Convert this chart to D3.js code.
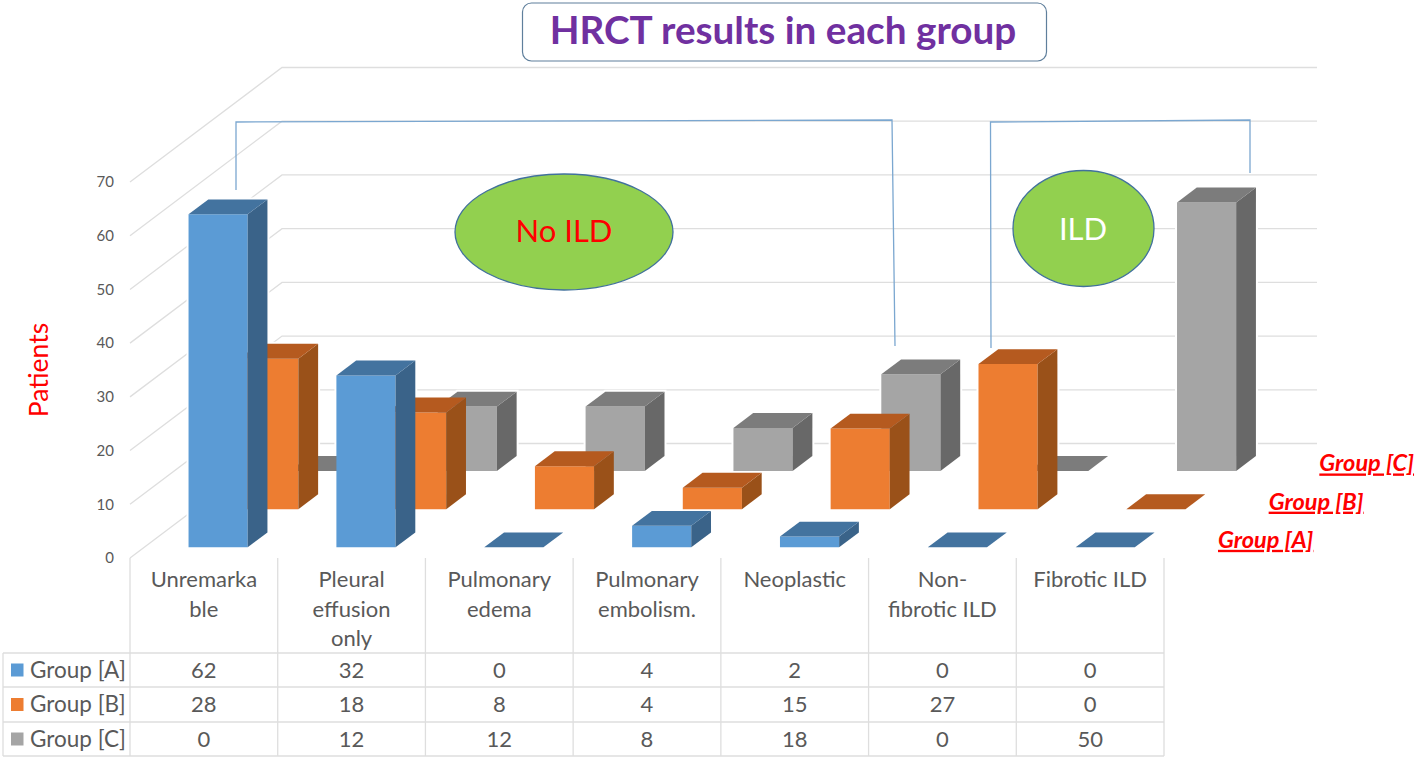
<!DOCTYPE html>
<html><head><meta charset="utf-8">
<script src="https://cdnjs.cloudflare.com/ajax/libs/d3/7.8.5/d3.min.js"></script>
<style>html,body{margin:0;padding:0;background:#fff;overflow:hidden}text{font-family:Lato,"Open Sans",sans-serif}</style>
</head><body><svg id="c" width="1418" height="760"></svg>
<script>
const categories = ["Unremarkable","Pleural effusion only","Pulmonary edema","Pulmonary embolism.","Neoplastic","Non-fibrotic ILD","Fibrotic ILD"];
const categoryLines = [["Unremarka","ble"],["Pleural","effusion","only"],["Pulmonary","edema"],["Pulmonary","embolism."],["Neoplastic"],["Non-","fibrotic ILD"],["Fibrotic ILD"]];
const seriesNames = ["Group [A]","Group [B]","Group [C]"];
const groupA = [62,32,0,4,2,0,0];
const groupB = [28,18,8,4,15,27,0];
const groupC = [0,12,12,8,18,0,50];
const seriesValues = [groupA,groupB,groupC];
const frontColors = ["#5b9bd5","#ed7d31","#a5a5a5"];
const topColors = ["#43739f","#b55a1f","#7c7c7c"];
const sideColors = ["#3a6389","#9a5119","#686868"];
const yTicks = [0,10,20,30,40,50,60,70];

const svg = d3.select("#c");
const gridC="#dedede", txt="#595959";
const y = d3.scaleLinear().domain([0,70]).range([558,182]);
const x = d3.scaleBand().domain(categories).range([130,1165]).paddingInner(0.6).paddingOuter(0.3);
const cols = d3.scaleBand().domain(categories).range([130,1164]);
const dX = d3.scaleLinear().domain([0,3]).range([0,152]);
const dY = d3.scaleLinear().domain([0,3]).range([0,-114.5]);
const barStart=0.28, barDepth=0.39;

const grid = svg.append("g").attr("fill","none").attr("stroke",gridC).attr("stroke-width",1.3);
yTicks.forEach(t=>{
  const p=d3.path();
  p.moveTo(x.range()[0],y(t));
  p.lineTo(x.range()[0]+dX(3),y(t)+dY(3));
  p.lineTo(1317,y(t)+dY(3));
  grid.append("path").attr("d",p.toString());
});

const ax = svg.append("g").attr("transform","translate(114,0)")
  .call(d3.axisLeft(y).tickValues(yTicks).tickSize(0).tickPadding(0));
ax.select(".domain").remove();
ax.selectAll("text").attr("fill",txt).style("font-size","15px").style("font-family","Lato");

const halo = svg.append("g");
const bars = svg.append("g");
[2,1,0].forEach(s=>{
  const dx0=dX(s+barStart), dy0=dY(s+barStart);
  const ddx=dX(barDepth), ddy=dY(barDepth);
  const w=x.bandwidth();
  const row = categories.map((c,i)=>({c,v:seriesValues[s][i]}));
  const poly = pts=>pts.map(p=>p.join(",")).join(" ");
  halo.append("g").selectAll("polygon").data(row).join("polygon").attr("fill","#fff").attr("stroke","#fff").attr("stroke-width",4)
    .attr("points",d=>{const l=x(d.c)+dx0,r=l+w,b=y(0)+dy0,t=y(d.v)+dy0;
      return poly([[l,b],[l,t],[l+ddx,t+ddy],[r+ddx,t+ddy],[r+ddx,b+ddy],[r,b]]);});
  const bar = bars.append("g").selectAll("g").data(row).join("g");
  bar.append("polygon").attr("fill",frontColors[s])
    .attr("points",d=>{const l=x(d.c)+dx0,r=l+w,b=y(0)+dy0,t=y(d.v)+dy0;
      return poly([[l,b],[l,t],[r,t],[r,b]]);});
  bar.append("polygon").attr("fill",sideColors[s])
    .attr("points",d=>{const r=x(d.c)+dx0+w,b=y(0)+dy0,t=y(d.v)+dy0;
      return poly([[r,b],[r,t],[r+ddx,t+ddy],[r+ddx,b+ddy]]);});
  bar.append("polygon").attr("fill",topColors[s])
    .attr("points",d=>{const l=x(d.c)+dx0,r=l+w,t=y(d.v)+dy0;
      return poly([[l,t],[r,t],[r+ddx,t+ddy],[l+ddx,t+ddy]]);});
  svg.append("text").text(seriesNames[s])
    .attr("x",1218+dX(s)).attr("y",y(0)+dy0+0.5)
    .attr("fill","#f00").attr("font-weight","700").attr("font-style","italic")
    .attr("text-decoration","underline").attr("font-size",23.5);
});

const rowY=[653,687,722,756];
const tbl = svg.append("g").attr("stroke",gridC).attr("stroke-width",1.3);
rowY.forEach(v=>tbl.append("line").attr("x1",3).attr("x2",1164).attr("y1",v).attr("y2",v));
tbl.append("line").attr("x1",3).attr("x2",3).attr("y1",653).attr("y2",756);
d3.range(8).forEach(i=>{
  const cx = i<7 ? cols(categories[i]) : 1164;
  tbl.append("line").attr("x1",cx).attr("x2",cx).attr("y1",558).attr("y2",756);
});
categories.forEach((c,i)=>{
  const cx=cols(c)+cols.bandwidth()/2;
  categoryLines[i].forEach((ln,k)=>svg.append("text").text(ln).attr("x",cx).attr("y",587+k*29.5)
    .attr("text-anchor","middle").attr("fill",txt).attr("font-size",22));
  seriesValues.forEach((vals,s)=>svg.append("text").text(vals[i]).attr("x",cx).attr("y",(rowY[s]+rowY[s+1])/2+7.5)
    .attr("text-anchor","middle").attr("fill",txt).attr("font-size",22));
});
seriesNames.forEach((n,s)=>{
  const cy=(rowY[s]+rowY[s+1])/2;
  svg.append("rect").attr("x",11).attr("y",cy-6.5).attr("width",12.5).attr("height",13).attr("fill",frontColors[s]);
  svg.append("text").text(n).attr("x",30).attr("y",cy+7.5).attr("fill",txt).attr("font-size",22.5);
});

svg.append("text").text("Patients").attr("transform","translate(48,370) rotate(-90)")
  .attr("text-anchor","middle").attr("fill","#f00").attr("font-size",26.5);

svg.append("rect").attr("x",522.5).attr("y",3).attr("width",524).attr("height",58).attr("rx",9)
  .attr("fill","#fff").attr("stroke","#5f7f9c").attr("stroke-width",1.2);
svg.append("text").text("HRCT results in each group").attr("x",783).attr("y",44)
  .attr("text-anchor","middle").attr("fill","#7030a0").attr("font-weight","700").attr("font-size",38.7);

const br = svg.append("g").attr("fill","none").attr("stroke","#7ba7d0").attr("stroke-width",1.3);
br.append("path").attr("d",d3.line()([[236,190],[236,122],[892,120],[895,346]]));
br.append("path").attr("d",d3.line()([[991,348],[990.5,122],[1250,120],[1250,173]]));

svg.append("ellipse").attr("cx",564).attr("cy",232).attr("rx",109).attr("ry",58)
  .attr("fill","#92d04f").attr("stroke","#41719c").attr("stroke-width",1.3);
svg.append("text").text("No ILD").attr("x",564).attr("y",242).attr("text-anchor","middle").attr("fill","#f00").attr("font-size",31);
svg.append("ellipse").attr("cx",1083.5).attr("cy",228.5).attr("rx",70.5).attr("ry",58)
  .attr("fill","#92d04f").attr("stroke","#41719c").attr("stroke-width",1.3);
svg.append("text").text("ILD").attr("x",1083).attr("y",240).attr("text-anchor","middle").attr("fill","#fff").attr("font-size",31);
</script></body></html>
